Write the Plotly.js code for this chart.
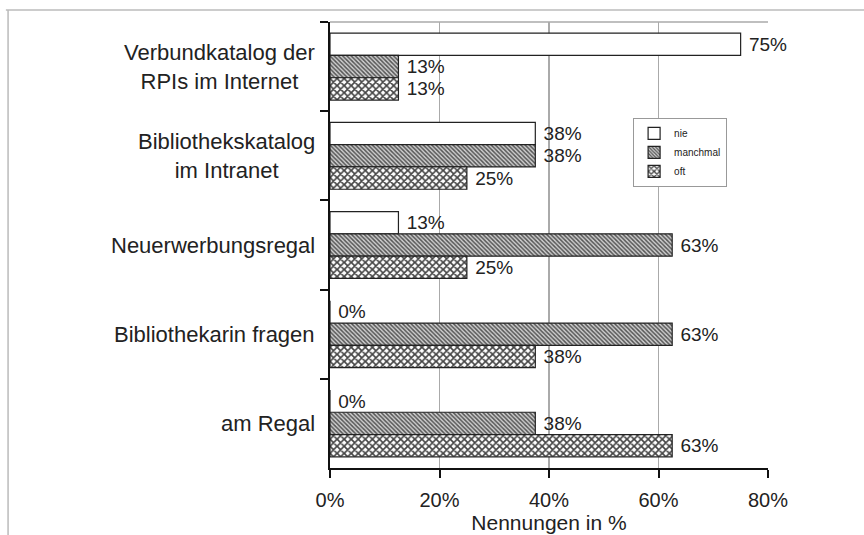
<!DOCTYPE html>
<html>
<head>
<meta charset="utf-8">
<script src="https://cdn.plot.ly/plotly-3.0.1.min.js"></script>
<style>html,body{margin:0;padding:0;background:#fff;}#chart{width:864px;height:535px;}</style>
</head>
<body>
<div id="chart"></div>
<script>
var categories = ["Verbundkatalog der<br>RPIs im Internet", "Bibliothekskatalog<br>im Intranet", "Neuerwerbungsregal", "Bibliothekarin fragen", "am Regal"];
var seriesNames = ["nie", "manchmal", "oft"];
var nie = [75, 37.5, 12.5, 0, 0];
var manchmal = [12.5, 37.5, 62.5, 62.5, 37.5];
var oft = [12.5, 25, 25, 37.5, 62.5];
var xTickVals = [0, 20, 40, 60, 80];
var xTickText = ["0%", "20%", "40%", "60%", "80%"];

var FONT = "Liberation Sans, Arial, Helvetica, sans-serif";
var patterns = [
  {shape: "", bgcolor: "#ffffff"},
  {shape: "\\", fgcolor: "#555555", bgcolor: "#d0d0d0", size: 3, solidity: 0.5},
  {shape: "x", fgcolor: "#444444", bgcolor: "#ffffff", size: 5, solidity: 0.55}
];
var vals = [nie, manchmal, oft];
var traces = vals.map(function (v, i) {
  return {
    type: "bar",
    orientation: "h",
    name: seriesNames[i],
    y: categories,
    x: v,
    texttemplate: " %{x:.0f}%",
    textposition: "outside",
    cliponaxis: false,
    textfont: {family: FONT, size: 19, color: "#222"},
    marker: {color: "#ffffff", pattern: patterns[i], line: {color: "#222", width: 1.2}},
    hoverinfo: "skip"
  };
});

var annotations = categories.map(function (c) {
  return {
    xref: "paper", yref: "y", x: 0, y: c, xanchor: "right", yanchor: "middle",
    xshift: -13, text: c, showarrow: false, align: "center",
    font: {family: FONT, size: 22, color: "#222"}
  };
});

var shapes = [
  {type: "line", xref: "paper", yref: "paper", x0: 0, x1: 1, y0: 1, y1: 1, line: {color: "#aaaaaa", width: 1.5}},
  {type: "line", xref: "paper", yref: "paper", x0: -0.74, x1: 1.3, y0: 1.027, y1: 1.027, line: {color: "#bbbbbb", width: 1.5}},
  {type: "line", xref: "paper", yref: "paper", x0: -0.735, x1: -0.735, y0: 1.027, y1: -0.2, line: {color: "#bbbbbb", width: 1.5}}
];

var layout = {
  width: 864, height: 535,
  margin: {l: 330, r: 96, t: 22, b: 67},
  paper_bgcolor: "#ffffff", plot_bgcolor: "#ffffff",
  barmode: "group", bargap: 0.25, bargroupgap: 0,
  font: {family: FONT, color: "#222"},
  xaxis: {
    range: [0, 80], tickvals: xTickVals, ticktext: xTickText,
    showgrid: true, gridcolor: "#aaaaaa", gridwidth: 1.2,
    showline: true, linecolor: "#111", linewidth: 2,
    ticks: "outside", ticklen: 8, tickwidth: 2, tickcolor: "#111",
    ticklabelstandoff: 5,
    tickfont: {family: FONT, size: 20, color: "#222"},
    title: {text: "Nennungen in %", font: {family: FONT, size: 21, color: "#222"}, standoff: 3},
    zeroline: false, fixedrange: true
  },
  yaxis: {
    type: "category", range: [4.5, -0.5],
    showticklabels: false, tickson: "boundaries",
    ticks: "outside", ticklen: 8, tickwidth: 2, tickcolor: "#111",
    showline: true, linecolor: "#111", linewidth: 2,
    showgrid: false, zeroline: false, fixedrange: true
  },
  legend: {
    x: 0.692, y: 0.785, xanchor: "left", yanchor: "top",
    bordercolor: "#999", borderwidth: 1, bgcolor: "#fff",
    font: {family: FONT, size: 10, color: "#222"},
    tracegroupgap: 0, itemwidth: 30, traceorder: "normal"
  },
  showlegend: true,
  annotations: annotations,
  shapes: shapes
};

Plotly.newPlot("chart", traces, layout, {displayModeBar: false, staticPlot: true});
</script>
</body>
</html>
